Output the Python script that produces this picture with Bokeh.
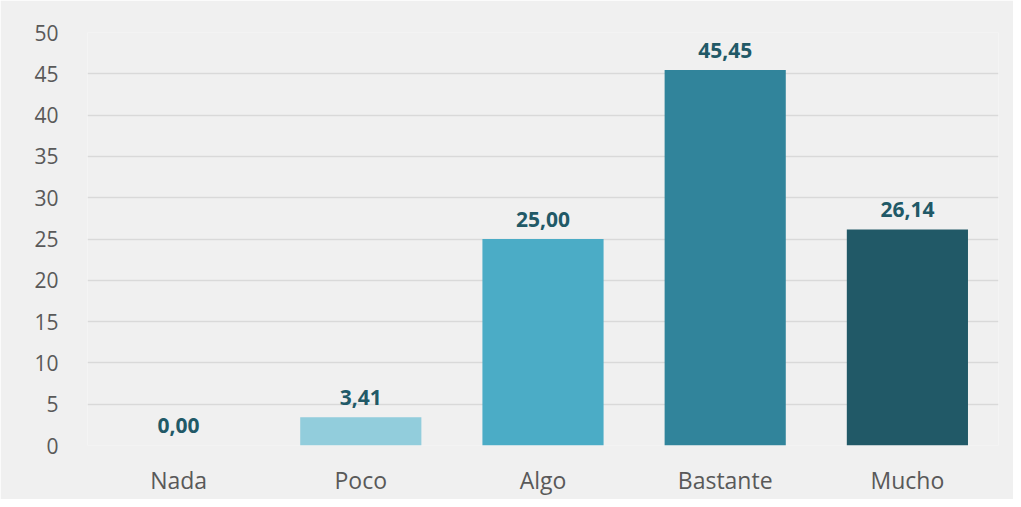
from bokeh.plotting import figure
from bokeh.models import ColumnDataSource, Range1d, FactorRange, SingleIntervalTicker
from bokeh.core.properties import value
from bokeh.embed import file_html
from bokeh.resources import INLINE

categories = ["Nada", "Poco", "Algo", "Bastante", "Mucho"]
values = [0.00, 3.41, 25.00, 45.45, 26.14]
colors = ["#b7dde8", "#92cddc", "#4bacc6", "#31849b", "#215967"]
labels = [f"{v:.2f}".replace(".", ",") for v in values]

src = ColumnDataSource(dict(cat=categories, val=values, color=colors, label=labels))

BG = "#f0f0f0"
p = figure(x_range=FactorRange(*categories, range_padding=0), y_range=Range1d(0, 50),
           width=1013, height=499, output_backend="svg", toolbar_location=None,
           background_fill_color=BG, border_fill_color=BG, outline_line_color=None,
           min_border_left=87, min_border_right=15, min_border_top=32, min_border_bottom=54)

p.vbar(x="cat", top="val", width=0.665, fill_color="color", line_color=None, source=src)
p.text(x="cat", y="val", text="label", source=src, text_align="center", text_baseline="alphabetic",
       y_offset=-20, text_color="#215967", text_font=value("Open Sans"), text_font_style="bold",
       text_font_size="21px")

p.yaxis.ticker = SingleIntervalTicker(interval=5)
p.xgrid.grid_line_color = None
p.ygrid.grid_line_color = "#d9d9d9"
p.ygrid.grid_line_width = 1.5
for ax in (p.xaxis, p.yaxis):
    ax.axis_line_color = None
    ax.major_tick_line_color = None
    ax.minor_tick_line_color = None
    ax.major_label_text_color = "#595959"
    ax.major_label_text_font = "Open Sans"
p.yaxis.major_label_text_font_size = "21px"
p.xaxis.major_label_text_font_size = "23px"
p.yaxis.major_label_standoff = 23
p.xaxis.major_label_standoff = 12

open("out.html", "w").write(file_html(p, INLINE))
